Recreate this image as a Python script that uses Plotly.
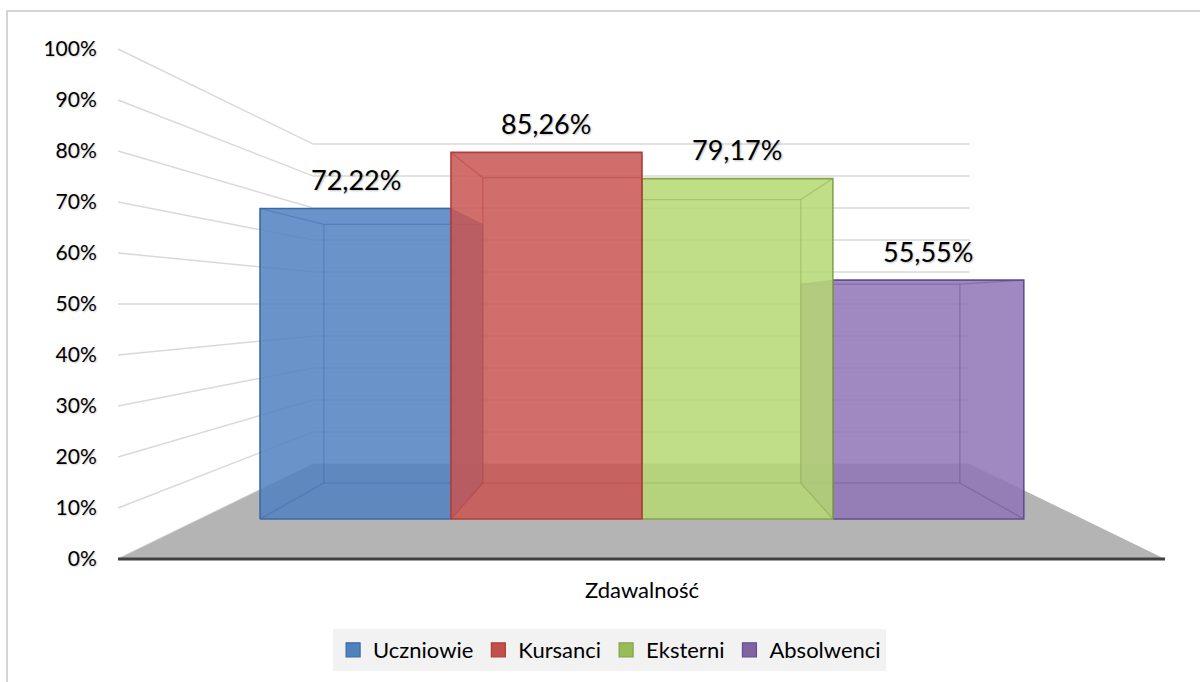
import plotly.graph_objects as go

# ---------------- data ----------------
categories = ["Uczniowie", "Kursanci", "Eksterni", "Absolwenci"]
values = [72.22, 85.26, 79.17, 55.55]
tick_values = [0, 10, 20, 30, 40, 50, 60, 70, 80, 90, 100]
tick_labels = ["0%", "10%", "20%", "30%", "40%", "50%", "60%", "70%", "80%", "90%", "100%"]
axis_title = "Zdawalność"

# ---------------- styles ----------------
fill_colors = ["rgba(80,128,192,0.85)", "rgba(200,85,82,0.85)",
               "rgba(181,215,114,0.85)", "rgba(143,116,181,0.85)"]
edge_colors = ["rgb(62,104,164)", "rgb(176,62,60)", "rgb(132,164,72)", "rgb(100,76,142)"]
edge_soft = ["rgba(62,104,164,0.45)", "rgba(176,62,60,0.45)",
             "rgba(132,164,72,0.45)", "rgba(100,76,142,0.45)"]
legend_colors = ["#4F81BD", "#C0504D", "#9BBB59", "#8064A2"]
FONT = "Lato, 'Open Sans', sans-serif"
W, H = 1200, 682

# ---------------- perspective geometry (canvas pixels) ----------------
VX, VY = 641.5, 304.0          # vanishing point
Y0, PX_PER_PCT = 559.0, 5.1    # front plane: 0% baseline and scale
FLOOR_X = (118.0, 1165.0)      # front edge of the floor
BAR_X = (189.0, 1095.0)        # span occupied by the bars (front plane)
S_WALL = 0.627                 # depth scale of the back wall
S_BAR = (0.843, 0.702)         # depth scale of bar front / back faces
LABEL_GAP = 29


def proj(X, v, s):
    Y = Y0 - PX_PER_PCT * v
    return VX + (X - VX) * s, VY + (Y - VY) * s


def hull(pts):
    pts = sorted(set(pts))
    def cross(o, a, b):
        return (a[0] - o[0]) * (b[1] - o[1]) - (a[1] - o[1]) * (b[0] - o[0])
    lower, upper = [], []
    for p in pts:
        while len(lower) >= 2 and cross(lower[-2], lower[-1], p) <= 0:
            lower.pop()
        lower.append(p)
    for p in reversed(pts):
        while len(upper) >= 2 and cross(upper[-2], upper[-1], p) <= 0:
            upper.pop()
        upper.append(p)
    return lower[:-1] + upper[:-1]


fig = go.Figure()

# ---- gridlines: side wall + back wall ----
gx, gy = [], []
for v in tick_values:
    xa, ya = proj(FLOOR_X[0], v, 1.0)
    xb, yb = proj(FLOOR_X[0], v, S_WALL)
    xc, yc = proj(FLOOR_X[1], v, S_WALL)
    gx += [xa, xb, xc, None]
    gy += [ya, yb, yc, None]
fig.add_trace(go.Scatter(x=gx, y=gy, mode="lines", line=dict(color="#D9D9D9", width=1.5),
                         hoverinfo="skip", showlegend=False))

# ---- floor ----
fl = [proj(FLOOR_X[0], 0, 1.0), proj(FLOOR_X[1], 0, 1.0),
      proj(FLOOR_X[1], 0, S_WALL), proj(FLOOR_X[0], 0, S_WALL)]
fl.append(fl[0])
fig.add_trace(go.Scatter(x=[p[0] for p in fl], y=[p[1] for p in fl], mode="lines",
                         fill="toself", fillcolor="#B4B4B4", line=dict(width=0, color="#B4B4B4"),
                         hoverinfo="skip", showlegend=False))

# ---- bars (3D boxes) ----
n = len(values)
bw = (BAR_X[1] - BAR_X[0]) / n
boxes = []
for i, v in enumerate(values):
    xl = BAR_X[0] + i * bw
    xr = xl + bw
    boxes.append((i, xl, xr, v))
# draw outer boxes first (farther from the vanishing line)
order = sorted(boxes, key=lambda b: -abs((b[1] + b[2]) / 2 - VX))
for i, xl, xr, v in order:
    sf, sb = S_BAR
    front = [proj(xl, 0, sf), proj(xr, 0, sf), proj(xr, v, sf), proj(xl, v, sf)]
    back = [proj(xl, 0, sb), proj(xr, 0, sb), proj(xr, v, sb), proj(xl, v, sb)]
    h = hull(front + back)
    h.append(h[0])
    fig.add_trace(go.Scatter(x=[p[0] for p in h], y=[p[1] for p in h], mode="lines",
                             fill="toself", fillcolor=fill_colors[i],
                             line=dict(width=0, color=fill_colors[i]),
                             hoverinfo="skip", showlegend=False))
    # soft edges: back face and connecting edges
    ex, ey = [], []
    for k in range(4):
        a, b = back[k], back[(k + 1) % 4]
        ex += [a[0], b[0], None]
        ey += [a[1], b[1], None]
        ex += [front[k][0], back[k][0], None]
        ey += [front[k][1], back[k][1], None]
    fig.add_trace(go.Scatter(x=ex, y=ey, mode="lines", line=dict(color=edge_soft[i], width=1.2),
                             hoverinfo="skip", showlegend=False))
    fr = front + [front[0]]
    fig.add_trace(go.Scatter(x=[p[0] for p in fr], y=[p[1] for p in fr], mode="lines",
                             line=dict(color=edge_colors[i], width=1.6),
                             hoverinfo="skip", showlegend=False))

# ---- front axis line ----
a0, a1 = proj(FLOOR_X[0], 0, 1.0), proj(FLOOR_X[1], 0, 1.0)
fig.add_trace(go.Scatter(x=[a0[0], a1[0]], y=[a0[1], a1[1]], mode="lines",
                         line=dict(color="#404040", width=3), hoverinfo="skip", showlegend=False))

# ---- value axis labels (overlay axis mapped to the front plane) ----
r0 = -(H - Y0) / PX_PER_PCT
r1 = r0 + H / PX_PER_PCT
fig.add_trace(go.Scatter(x=[None], y=[None], yaxis="y2", showlegend=False, hoverinfo="skip"))

# ---- legend entries ----
for i, c in enumerate(categories):
    fig.add_trace(go.Scatter(x=[None], y=[None], mode="markers", name=c,
                             marker=dict(symbol="square", size=14, color=legend_colors[i],
                                         line=dict(color=edge_colors[i], width=1.2))))

# ---- data labels ----
annotations = []
for i, xl, xr, v in boxes:
    cx, ty = proj((xl + xr) / 2, v, S_BAR[0])
    txt = f"{v:.2f}".replace(".", ",") + "%"
    annotations.append(dict(x=cx, y=ty - LABEL_GAP, xref="x", yref="y", text=txt, showarrow=False,
                            font=dict(family=FONT, size=27, color="#000000",
                                      shadow="1px 1px 2px rgba(0,0,0,0.25)")))
annotations.append(dict(x=VX, y=589, xref="x", yref="y", text=axis_title, showarrow=False,
                        font=dict(family=FONT, size=22, color="#000000")))

fig.update_layout(
    width=W, height=H,
    margin=dict(l=0, r=0, t=0, b=0),
    paper_bgcolor="white", plot_bgcolor="white",
    hovermode=False,
    xaxis=dict(range=[0, W], visible=False, fixedrange=True),
    yaxis=dict(range=[H, 0], visible=False, fixedrange=True),
    yaxis2=dict(range=[r0, r1], overlaying="y", anchor="free", position=FLOOR_X[0] / W,
                side="left", tickvals=tick_values, ticktext=tick_labels,
                ticks="outside", ticklen=17, tickcolor="rgba(0,0,0,0)",
                showgrid=False, zeroline=False, showline=False, fixedrange=True,
                tickfont=dict(family=FONT, size=21, color="#000000",
                              shadow="1px 1px 2px rgba(0,0,0,0.2)")),
    showlegend=True,
    legend=dict(orientation="h", x=0.508, xanchor="center", y=1 - 650 / H, yanchor="middle",
                bgcolor="#F2F2F2", font=dict(family=FONT, size=22, color="#000000"),
                itemclick=False, itemdoubleclick=False),
    annotations=annotations,
    shapes=[dict(type="rect", xref="x", yref="y", x0=7, y0=11, x1=W + 10, y1=H + 10,
                 line=dict(color="#C8C8C8", width=1.5), fillcolor="rgba(0,0,0,0)", layer="below")],
)

fig.write_html("out.html", config={"displayModeBar": False, "staticPlot": False},
               post_script="document.body.style.margin='0';")
